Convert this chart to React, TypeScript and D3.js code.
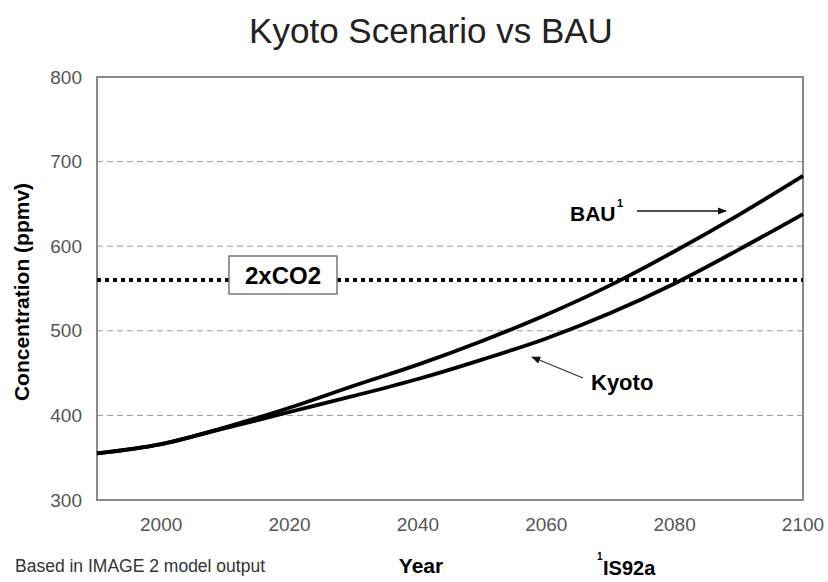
import React, { useEffect, useRef } from 'react';
import * as d3 from 'd3';

// data
const years = [1990, 2000, 2010, 2020, 2030, 2040, 2050, 2060, 2070, 2080, 2090, 2100];
const bau = [355, 366, 386, 409, 435, 460, 488, 519, 554, 594, 637, 683];
const kyoto = [355, 366, 385, 404, 423, 443, 466, 491, 521, 556, 596, 638];
const yTicks = [300, 400, 500, 600, 700, 800];
const xTicks = [2000, 2020, 2040, 2060, 2080, 2100];
const gridValues = [400, 500, 600, 700];
const doubleCO2 = 560;

const FONT = 'Arial, "Liberation Sans", sans-serif';

const App: React.FC = () => {
  const svgRef = useRef<SVGSVGElement>(null);

  useEffect(() => {
    if (!svgRef.current) return;
    const svg = d3.select(svgRef.current);
    svg.selectAll('*').remove();

    const W = 828, H = 582;
    const margin = { top: 77, right: 25, bottom: 82, left: 97 };
    const innerW = W - margin.left - margin.right;
    const innerH = H - margin.top - margin.bottom;

    svg.append('rect').attr('width', W).attr('height', H).attr('fill', '#fff');

    const g = svg.append('g').attr('transform', `translate(${margin.left},${margin.top})`);

    const x = d3.scaleLinear().domain([1990, 2100]).range([0, innerW]);
    const y = d3.scaleLinear().domain([300, 800]).range([innerH, 0]);

    // Title
    svg.append('text')
      .attr('x', 431).attr('y', 43)
      .attr('text-anchor', 'middle')
      .style('font-family', FONT)
      .style('font-size', '35px')
      .style('fill', '#222')
      .text('Kyoto Scenario vs BAU');

    // dashed gridlines
    g.selectAll('line.grid')
      .data(gridValues)
      .enter()
      .append('line')
      .attr('class', 'grid')
      .attr('x1', 0).attr('x2', innerW)
      .attr('y1', d => y(d)).attr('y2', d => y(d))
      .attr('stroke', '#9a9a9a')
      .attr('stroke-width', 1)
      .attr('stroke-dasharray', '6,4');

    // frame
    g.append('rect')
      .attr('x', 0).attr('y', 0)
      .attr('width', innerW).attr('height', innerH)
      .attr('fill', 'none')
      .attr('stroke', '#8a8a8a')
      .attr('stroke-width', 2);

    // 2xCO2 dotted line
    g.append('line')
      .attr('x1', 0).attr('x2', innerW)
      .attr('y1', y(doubleCO2)).attr('y2', y(doubleCO2))
      .attr('stroke', '#000')
      .attr('stroke-width', 4)
      .attr('stroke-dasharray', '4,4');

    // tick labels
    svg.append('g')
      .selectAll('text')
      .data(yTicks)
      .enter()
      .append('text')
      .attr('x', 82)
      .attr('y', d => margin.top + y(d))
      .attr('dy', '0.35em')
      .attr('text-anchor', 'end')
      .style('font-family', FONT)
      .style('font-size', '19px')
      .style('fill', '#555')
      .text(d => d);

    svg.append('g')
      .selectAll('text')
      .data(xTicks)
      .enter()
      .append('text')
      .attr('x', d => margin.left + x(d))
      .attr('y', 531)
      .attr('text-anchor', 'middle')
      .style('font-family', FONT)
      .style('font-size', '19px')
      .style('fill', '#555')
      .text(d => d);

    // curves
    const line = d3.line<number>()
      .x((_, i) => x(years[i]))
      .y(d => y(d))
      .curve(d3.curveCatmullRom);

    [bau, kyoto].forEach(series => {
      g.append('path')
        .datum(series)
        .attr('d', line)
        .attr('fill', 'none')
        .attr('stroke', '#000')
        .attr('stroke-width', 3.8);
    });

    // 2xCO2 box
    svg.append('rect')
      .attr('x', 229).attr('y', 256)
      .attr('width', 108).attr('height', 38)
      .attr('fill', '#fff')
      .attr('stroke', '#777')
      .attr('stroke-width', 1.5);
    svg.append('text')
      .attr('x', 283).attr('y', 284)
      .attr('text-anchor', 'middle')
      .style('font-family', FONT)
      .style('font-size', '24px')
      .style('font-weight', 'bold')
      .text('2xCO2');

    // arrows
    const defs = svg.append('defs');
    defs.append('marker')
      .attr('id', 'arrow')
      .attr('viewBox', '0 0 10 10')
      .attr('refX', 9).attr('refY', 5)
      .attr('markerWidth', 7).attr('markerHeight', 7)
      .attr('orient', 'auto')
      .append('path')
      .attr('d', 'M0,1L10,5L0,9Z')
      .attr('fill', '#111');

    svg.append('line')
      .attr('x1', 637).attr('y1', 211)
      .attr('x2', 726).attr('y2', 211)
      .attr('stroke', '#111').attr('stroke-width', 1.3)
      .attr('marker-end', 'url(#arrow)');

    svg.append('line')
      .attr('x1', 583).attr('y1', 378)
      .attr('x2', 532).attr('y2', 357)
      .attr('stroke', '#333').attr('stroke-width', 1.3)
      .attr('marker-end', 'url(#arrow)');

    // labels
    svg.append('text')
      .attr('x', 570).attr('y', 221)
      .style('font-family', FONT)
      .style('font-size', '21px')
      .style('font-weight', 'bold')
      .text('BAU');
    svg.append('text')
      .attr('x', 617).attr('y', 207)
      .style('font-family', FONT)
      .style('font-size', '11px')
      .style('font-weight', 'bold')
      .text('1');

    svg.append('text')
      .attr('x', 591).attr('y', 390)
      .style('font-family', FONT)
      .style('font-size', '22px')
      .style('font-weight', 'bold')
      .text('Kyoto');

    // axis titles and notes
    svg.append('text')
      .attr('transform', 'translate(29,292) rotate(-90)')
      .attr('text-anchor', 'middle')
      .style('font-family', FONT)
      .style('font-size', '21px')
      .style('font-weight', 'bold')
      .text('Concentration (ppmv)');

    svg.append('text')
      .attr('x', 421).attr('y', 573)
      .attr('text-anchor', 'middle')
      .style('font-family', FONT)
      .style('font-size', '21px')
      .style('font-weight', 'bold')
      .text('Year');

    svg.append('text')
      .attr('x', 15).attr('y', 572)
      .style('font-family', FONT)
      .style('font-size', '17.5px')
      .style('fill', '#333')
      .text('Based in IMAGE 2 model output');

    svg.append('text')
      .attr('x', 597).attr('y', 560)
      .style('font-family', FONT)
      .style('font-size', '10px')
      .style('font-weight', 'bold')
      .text('1');
    svg.append('text')
      .attr('x', 603).attr('y', 575)
      .style('font-family', FONT)
      .style('font-size', '20px')
      .style('font-weight', 'bold')
      .text('IS92a');
  }, []);

  return (
    <div style={{ position: 'absolute', left: 0, top: 0, width: 828, height: 582 }}>
      <svg ref={svgRef} width={828} height={582} style={{ display: 'block' }} />
    </div>
  );
};

export default App;
